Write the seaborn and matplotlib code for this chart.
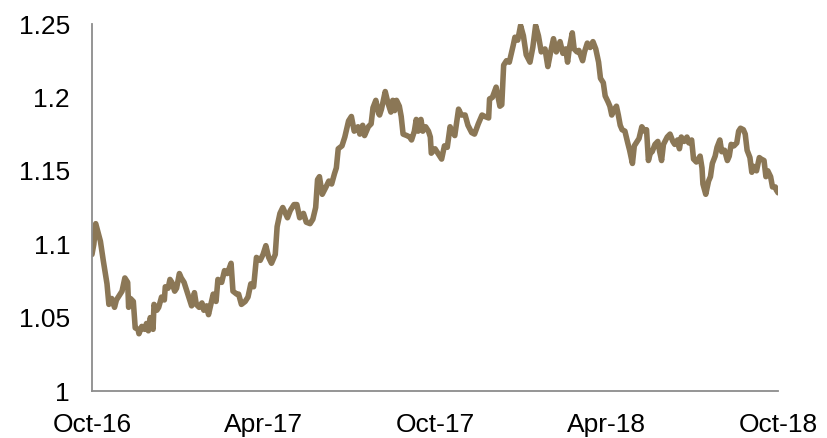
import matplotlib
matplotlib.use("Agg")
import matplotlib.pyplot as plt
import matplotlib.dates as mdates
import numpy as np
import pandas as pd
import seaborn as sns

# EUR/USD, sampled at turning points; days counted from 1 Oct 2016
start_date = "2016-10-01"
days = [
    0, 2, 4, 9, 12, 16, 18, 21, 24, 26, 30, 32, 35, 38, 39, 41, 44, 46, 49, 50,
    53, 56, 58, 60, 62, 64, 65, 66, 69, 71, 74, 77, 78, 81, 83, 85, 88, 90, 93, 95,
    98, 101, 103, 106, 109, 111, 114, 117, 119, 122, 124, 129, 132, 134, 138, 141, 144, 148, 150, 154,
    156, 159, 163, 166, 169, 172, 175, 179, 182, 185, 188, 191, 195, 197, 200, 203, 208, 211, 215, 218,
    221, 225, 228, 232, 235, 238, 240, 242, 245, 249, 252, 255, 258, 260, 262, 266, 269, 273, 276, 279,
    283, 285, 288, 290, 294, 297, 299, 302, 305, 306, 308, 311, 312, 315, 318, 320, 322, 324, 327, 329,
    331, 335, 338, 340, 343, 345, 347, 350, 352, 355, 358, 360, 361, 365, 368, 372, 375, 378, 381, 383,
    386, 390, 393, 397, 400, 404, 407, 411, 415, 418, 422, 423, 426, 430, 434, 436, 438, 441, 444, 448,
    450, 453, 456, 459, 462, 466, 469, 472, 475, 478, 482, 485, 488, 491, 494, 498, 501, 504, 506, 508,
    511, 513, 516, 518, 522, 524, 527, 530, 533, 536, 539, 541, 544, 546, 549, 551, 553, 556, 558, 560,
    562, 564, 567, 570, 572, 575, 577, 579, 582, 585, 588, 590, 592, 594, 596, 599, 602, 604, 606, 608,
    612, 615, 618, 620, 623, 625, 627, 630, 633, 635, 638, 640, 643, 647, 649, 650, 653, 656, 658, 660,
    663, 665, 668, 670, 673, 676, 678, 680, 683, 686, 688, 690, 693, 695, 697, 700, 702, 704, 707, 710,
    712, 715, 717, 719, 722, 724, 727, 728, 730,
]
eurusd = [
    1.093, 1.100, 1.114, 1.102, 1.089, 1.073, 1.059, 1.063, 1.057, 1.062, 1.066, 1.068, 1.077, 1.074, 1.057, 1.063, 1.061, 1.043, 1.042, 1.039,
    1.044, 1.042, 1.046, 1.041, 1.050, 1.046, 1.042, 1.059, 1.055, 1.057, 1.064, 1.062, 1.071, 1.070, 1.076, 1.074, 1.068, 1.070, 1.080, 1.077,
    1.074, 1.068, 1.064, 1.058, 1.067, 1.059, 1.057, 1.060, 1.055, 1.058, 1.052, 1.066, 1.061, 1.076, 1.074, 1.082, 1.080, 1.087, 1.068, 1.066,
    1.066, 1.059, 1.061, 1.064, 1.073, 1.071, 1.091, 1.089, 1.093, 1.099, 1.091, 1.087, 1.093, 1.112, 1.121, 1.125, 1.118, 1.123, 1.127, 1.127,
    1.118, 1.121, 1.115, 1.114, 1.117, 1.125, 1.144, 1.146, 1.134, 1.139, 1.143, 1.141, 1.148, 1.152, 1.165, 1.167, 1.173, 1.184, 1.187, 1.177,
    1.180, 1.175, 1.181, 1.174, 1.180, 1.182, 1.193, 1.198, 1.189, 1.188, 1.192, 1.201, 1.204, 1.196, 1.190, 1.198, 1.191, 1.198, 1.194, 1.187,
    1.175, 1.174, 1.173, 1.171, 1.177, 1.185, 1.177, 1.185, 1.177, 1.180, 1.177, 1.173, 1.162, 1.165, 1.162, 1.158, 1.167, 1.166, 1.180, 1.177,
    1.174, 1.192, 1.188, 1.188, 1.181, 1.176, 1.175, 1.182, 1.188, 1.187, 1.186, 1.199, 1.200, 1.207, 1.194, 1.195, 1.222, 1.225, 1.224, 1.235,
    1.241, 1.239, 1.249, 1.242, 1.229, 1.224, 1.234, 1.249, 1.242, 1.231, 1.233, 1.221, 1.231, 1.240, 1.231, 1.238, 1.230, 1.233, 1.224, 1.234,
    1.244, 1.233, 1.231, 1.232, 1.225, 1.231, 1.237, 1.234, 1.238, 1.233, 1.224, 1.213, 1.210, 1.201, 1.197, 1.194, 1.188, 1.192, 1.194, 1.188,
    1.181, 1.178, 1.177, 1.169, 1.164, 1.155, 1.167, 1.169, 1.172, 1.180, 1.177, 1.178, 1.157, 1.162, 1.163, 1.168, 1.170, 1.163, 1.157, 1.168,
    1.173, 1.175, 1.170, 1.168, 1.171, 1.165, 1.173, 1.170, 1.173, 1.169, 1.171, 1.158, 1.156, 1.160, 1.152, 1.141, 1.134, 1.143, 1.146, 1.155,
    1.160, 1.166, 1.171, 1.163, 1.164, 1.157, 1.160, 1.168, 1.167, 1.169, 1.177, 1.179, 1.178, 1.175, 1.164, 1.159, 1.149, 1.153, 1.150, 1.159,
    1.158, 1.157, 1.146, 1.150, 1.146, 1.139, 1.139, 1.137, 1.135,
]

y_ticks = [1.0, 1.05, 1.1, 1.15, 1.2, 1.25]
y_tick_labels = ["1", "1.05", "1.1", "1.15", "1.2", "1.25"]
x_tick_dates = ["2016-10-01", "2017-04-01", "2017-10-01", "2018-04-01", "2018-10-01"]

df = pd.DataFrame({
    "date": pd.Timestamp(start_date) + pd.to_timedelta(days, unit="D"),
    "eurusd": eurusd,
})

sns.set_style("white")
plt.rcParams["font.family"] = ["Liberation Sans", "DejaVu Sans"]

fig = plt.figure(figsize=(8.27, 4.38), dpi=100)
ax = fig.add_axes([0.1112, 0.1073, 0.8297, 0.8379])

line_color = "#8B7756"
axis_color = "#8C8C8C"

sns.lineplot(data=df, x="date", y="eurusd", ax=ax, color=line_color,
             linewidth=4.0, solid_joinstyle="round", solid_capstyle="round")

ax.set_xlim(pd.Timestamp(x_tick_dates[0]), pd.Timestamp(x_tick_dates[-1]))
ax.set_ylim(y_ticks[0], y_ticks[-1])
ax.set_xticks(pd.to_datetime(x_tick_dates))
ax.xaxis.set_major_formatter(mdates.DateFormatter("%b-%y"))
ax.set_yticks(y_ticks)
ax.set_yticklabels(y_tick_labels)
ax.set_xlabel("")
ax.set_ylabel("")

for side in ["top", "right"]:
    ax.spines[side].set_visible(False)
for side in ["left", "bottom"]:
    ax.spines[side].set_color(axis_color)
    ax.spines[side].set_linewidth(1.3)

ax.tick_params(axis="both", which="major", direction="out", length=6.8,
               width=1.3, color=axis_color, labelcolor="black", labelsize=19)
ax.tick_params(axis="y", pad=9)
ax.tick_params(axis="x", pad=9)
ax.grid(False)

fig.savefig("out.png", dpi=100, facecolor="white")
